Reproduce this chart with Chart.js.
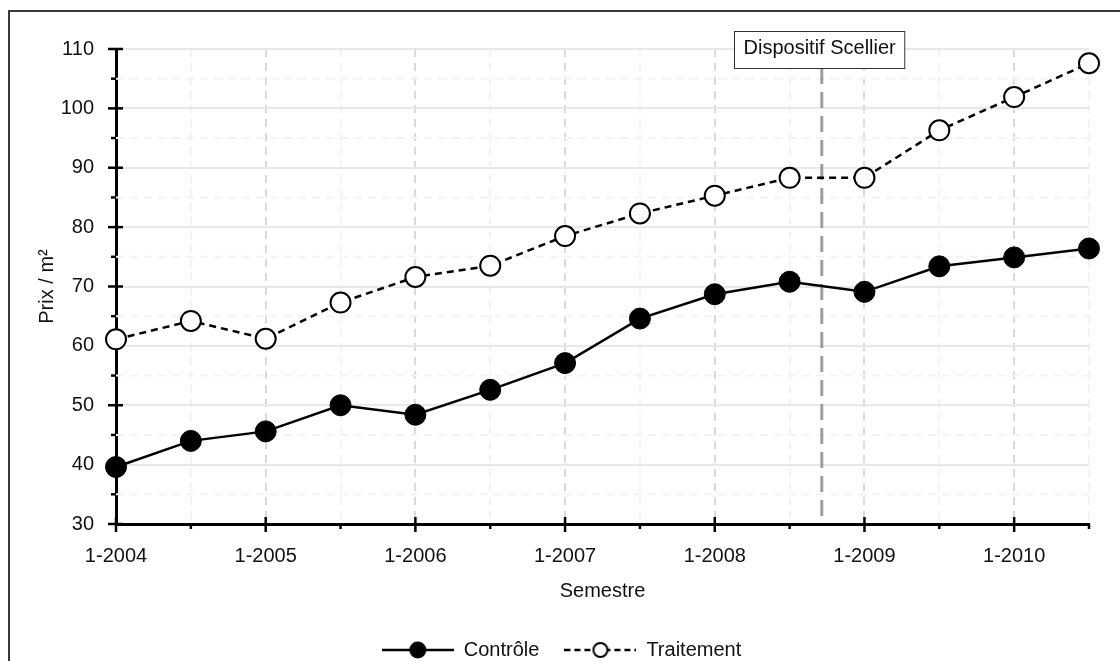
<!DOCTYPE html>
<html lang="fr">
<head>
<meta charset="utf-8">
<title>Prix / m² - Contrôle vs Traitement</title>
<script src="https://cdn.jsdelivr.net/npm/chart.js@4.4.1/dist/chart.umd.min.js"></script>
<style>
  html, body { margin: 0; padding: 0; background: #fff; overflow: hidden; }
  #frame {
    position: absolute; left: 8px; top: 10px;
    width: 1200px; height: 800px;
    border: 2px solid #3a3a3a;
    background: #fff;
  }
  #wrap { position: absolute; left: 0; top: 0; width: 1120px; height: 661px; }
</style>
</head>
<body>
<div id="frame"></div>
<div id="wrap"><canvas id="chart"></canvas></div>
<script>
// Semesters on the x axis
const semesters = ['1-2004', '2-2004', '1-2005', '2-2005', '1-2006', '2-2006', '1-2007',
  '2-2007', '1-2008', '2-2008', '1-2009', '2-2009', '1-2010', '2-2010'];

// Series (prix / m²)
const controle = [39.6, 44.0, 45.6, 50.0, 48.4, 52.6, 57.1, 64.6, 68.7, 70.8, 69.1, 73.4, 74.9, 76.4];
const traitement = [61.1, 64.2, 61.2, 67.3, 71.6, 73.5, 78.5, 82.3, 85.3, 88.3, 88.3, 96.3, 101.9, 107.6];

// Y axis range
const yMin = 30;
const yMax = 110;
const yStep = 5;

// Policy marker (position on the semester axis)
const scellierLabel = 'Dispositif Scellier';
const scellierIndex = 9.43;

const FONT = '"Liberation Sans", Arial, Helvetica, sans-serif';
Chart.defaults.font.family = FONT;
Chart.defaults.font.size = 20;
Chart.defaults.color = '#111';

/**
 * Little canvas used as legend symbol: line + marker
 */
function legendSymbol(filled, dashed) {
  const c = document.createElement('canvas');
  c.width = 72;
  c.height = 22;
  const g = c.getContext('2d');
  g.strokeStyle = '#000';
  g.lineWidth = 2.5;
  g.setLineDash(dashed ? [6, 4] : []);
  g.beginPath();
  g.moveTo(0, 11);
  g.lineTo(72, 11);
  g.stroke();
  g.setLineDash([]);
  g.beginPath();
  g.arc(36, 11, filled ? 7.5 : 7, 0, Math.PI * 2);
  g.fillStyle = filled ? '#000' : '#fff';
  g.fill();
  g.lineWidth = 2;
  g.stroke();
  return c;
}

// Minor grid lines, tick marks and the policy marker
const decorPlugin = {
  id: 'decor',
  beforeDatasetsDraw(chart) {
    const {ctx, chartArea, scales: {x, y}} = chart;
    ctx.save();

    // minor horizontal grid (dashed)
    ctx.strokeStyle = '#f3f3f3';
    ctx.lineWidth = 2;
    ctx.setLineDash([8, 6]);
    y.ticks.forEach(t => {
      if (t.value % 10 !== 0) {
        const py = y.getPixelForValue(t.value);
        ctx.beginPath();
        ctx.moveTo(chartArea.left, py);
        ctx.lineTo(chartArea.right, py);
        ctx.stroke();
      }
    });
    ctx.setLineDash([]);

    // policy marker line
    const sx = x.getPixelForValue(scellierIndex);
    ctx.strokeStyle = '#9e9e9e';
    ctx.lineWidth = 3;
    ctx.setLineDash([16, 8]);
    ctx.beginPath();
    ctx.moveTo(sx, 68);
    ctx.lineTo(sx, chartArea.bottom);
    ctx.stroke();
    ctx.setLineDash([]);

    // tick marks
    ctx.strokeStyle = '#000';
    ctx.lineWidth = 2.5;
    y.ticks.forEach(t => {
      const py = y.getPixelForValue(t.value);
      const major = t.value % 10 === 0;
      ctx.beginPath();
      ctx.moveTo(chartArea.left - (major ? 8 : 5), py);
      ctx.lineTo(chartArea.left + (major ? 7 : 0), py);
      ctx.stroke();
    });
    semesters.forEach((s, i) => {
      const px = x.getPixelForValue(i);
      const major = s.startsWith('1-');
      ctx.beginPath();
      ctx.moveTo(px, chartArea.bottom - (major ? 7 : 0));
      ctx.lineTo(px, chartArea.bottom + (major ? 8 : 5));
      ctx.stroke();
    });
    ctx.restore();
  },
  afterDatasetsDraw(chart) {
    const {ctx, scales: {x}} = chart;
    const sx = x.getPixelForValue(scellierIndex);
    ctx.save();
    ctx.font = '20px ' + FONT;
    const w = ctx.measureText(scellierLabel).width + 18;
    const bx = Math.round(sx - 3 - w / 2) + 0.5;
    ctx.fillStyle = '#fff';
    ctx.fillRect(bx, 31.5, w, 37);
    ctx.strokeStyle = '#333';
    ctx.lineWidth = 1;
    ctx.strokeRect(bx, 31.5, w, 37);
    ctx.fillStyle = '#111';
    ctx.textAlign = 'center';
    ctx.textBaseline = 'middle';
    ctx.fillText(scellierLabel, bx + w / 2, 48.5);
    ctx.restore();
  }
};

const ctx = document.getElementById('chart');

new Chart(ctx, {
  type: 'line',
  data: {
    labels: semesters,
    datasets: [
      {
        label: 'Contrôle',
        data: controle,
        borderColor: '#000',
        borderWidth: 2.5,
        backgroundColor: '#000',
        pointBackgroundColor: '#000',
        pointBorderColor: '#000',
        pointBorderWidth: 1,
        pointRadius: 10.5,
        pointHoverRadius: 10.5,
        tension: 0,
        clip: false
      },
      {
        label: 'Traitement',
        data: traitement,
        borderColor: '#000',
        borderWidth: 2.5,
        borderDash: [7, 5],
        backgroundColor: '#fff',
        pointBackgroundColor: '#fff',
        pointBorderColor: '#000',
        pointBorderWidth: 2,
        pointRadius: 10,
        pointHoverRadius: 10,
        tension: 0,
        clip: false
      }
    ]
  },
  options: {
    responsive: true,
    maintainAspectRatio: false,
    animation: false,
    layout: {
      padding: { left: 34, right: 31, top: 49, bottom: -9 }
    },
    scales: {
      x: {
        offset: false,
        grid: {
          drawTicks: false,
          lineWidth: 2,
          color: (c) => (c.index % 2 === 0 ? '#dadada' : '#f3f3f3')
        },
        border: { display: true, color: '#000', width: 3, dash: [8, 6] },
        ticks: {
          autoSkip: false,
          maxRotation: 0,
          padding: 20,
          color: '#111',
          font: { size: 20 },
          callback: function (value) {
            const lab = this.getLabelForValue(value);
            return lab.startsWith('1-') ? lab : '';
          }
        },
        title: {
          display: true,
          text: 'Semestre',
          color: '#111',
          font: { size: 20 },
          padding: { top: 0, bottom: 12 }
        },
        afterFit: (scale) => { scale.height = 91; }
      },
      y: {
        min: yMin,
        max: yMax,
        grid: {
          drawTicks: false,
          lineWidth: 2,
          color: (c) => (c.tick && c.tick.value % 10 === 0 ? '#e8e8e8' : 'rgba(0,0,0,0)')
        },
        border: { display: true, color: '#000', width: 3 },
        ticks: {
          stepSize: yStep,
          padding: 22,
          color: '#111',
          font: { size: 20 },
          callback: (v) => (v % 10 === 0 ? v : '')
        },
        title: {
          display: true,
          text: 'Prix / m²',
          color: '#111',
          font: { size: 20 },
          padding: { top: 1, bottom: 0 }
        },
        afterFit: (scale) => { scale.width = 82; }
      }
    },
    plugins: {
      tooltip: { enabled: false },
      legend: {
        position: 'bottom',
        labels: {
          usePointStyle: true,
          pointStyleWidth: 72,
          padding: 25,
          color: '#111',
          font: { size: 20 },
          generateLabels: (chart) => chart.data.datasets.map((ds, i) => ({
            text: ds.label,
            datasetIndex: i,
            hidden: false,
            fillStyle: ds.pointBackgroundColor,
            strokeStyle: '#000',
            lineWidth: 0,
            fontColor: '#111',
            pointStyle: legendSymbol(i === 0, i === 1)
          }))
        }
      }
    }
  },
  plugins: [decorPlugin]
});
</script>
</body>
</html>
